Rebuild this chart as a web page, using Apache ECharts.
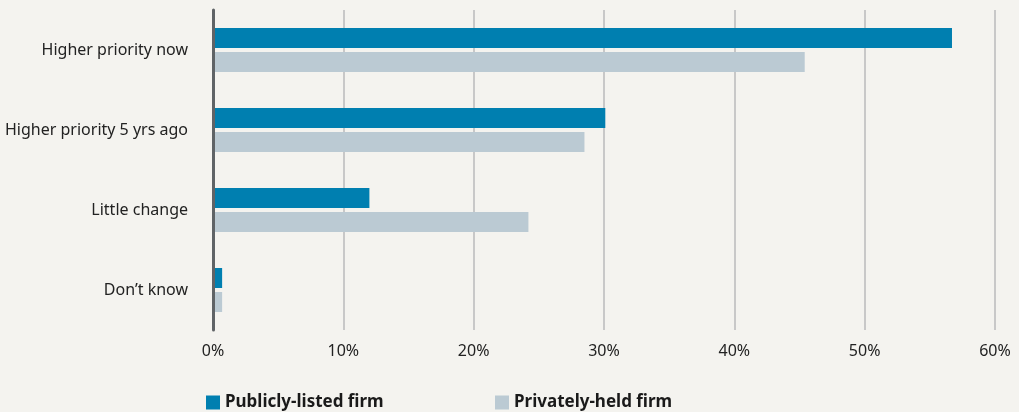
<!DOCTYPE html>
<html>
<head>
<meta charset="utf-8">
<script src="https://cdn.jsdelivr.net/npm/echarts@6/dist/echarts.min.js"></script>
<style>
  html, body { margin: 0; padding: 0; background: #f4f3ef; }
  #myChart { width: 1019px; height: 412px; }
</style>
</head>
<body>
<div id="myChart"></div>
<script>
// data
var categories = ["Higher priority now", "Higher priority 5 yrs ago", "Little change", "Don\u2019t know"];
var publicFirm = [56.7, 30.1, 12.0, 0.7];
var privateFirm = [45.4, 28.5, 24.2, 0.7];
var seriesNames = ["Publicly-listed firm", "Privately-held firm"];

var myChart = echarts.init(document.getElementById("myChart"));
var fontFamily = "'Noto Sans', sans-serif";

var legendText = { fontSize: 17, fontWeight: "bold", color: "#1a1a1a", fontFamily: fontFamily };

var option = {
  backgroundColor: "#f4f3ef",
  animation: false,
  textStyle: { fontFamily: fontFamily },
  grid: { left: 213, right: 24, top: 10, bottom: 82 },
  legend: [
    {
      data: [seriesNames[0]],
      left: 201, top: 389,
      icon: "rect", itemWidth: 14, itemHeight: 14, itemGap: 0, itemTextGap: 10,
      textStyle: legendText
    },
    {
      data: [seriesNames[1]],
      left: 490, top: 389,
      icon: "rect", itemWidth: 14, itemHeight: 14, itemGap: 0, itemTextGap: 16,
      textStyle: legendText
    }
  ],
  xAxis: {
    type: "value",
    min: 0, max: 60, interval: 10,
    axisLine: { show: false },
    axisTick: { show: false },
    axisLabel: {
      formatter: "{value}%",
      color: "#222", fontSize: 16, margin: 13
    },
    splitLine: { lineStyle: { color: "#c8c8c8", width: 2 } }
  },
  yAxis: {
    type: "category",
    inverse: true,
    data: categories,
    axisLine: { show: true, lineStyle: { color: "#5f6366", width: 3 } },
    axisTick: { show: false },
    axisLabel: { color: "#222", fontSize: 16, margin: 25 },
    z: 5
  },
  series: [
    {
      name: seriesNames[0],
      type: "bar",
      data: publicFirm,
      barWidth: 20,
      barGap: "20%",
      itemStyle: { color: "#007fb0" }
    },
    {
      name: seriesNames[1],
      type: "bar",
      data: privateFirm,
      barWidth: 20,
      barGap: "20%",
      itemStyle: { color: "#bbcad3" }
    }
  ]
};
myChart.setOption(option);
</script>
</body>
</html>
